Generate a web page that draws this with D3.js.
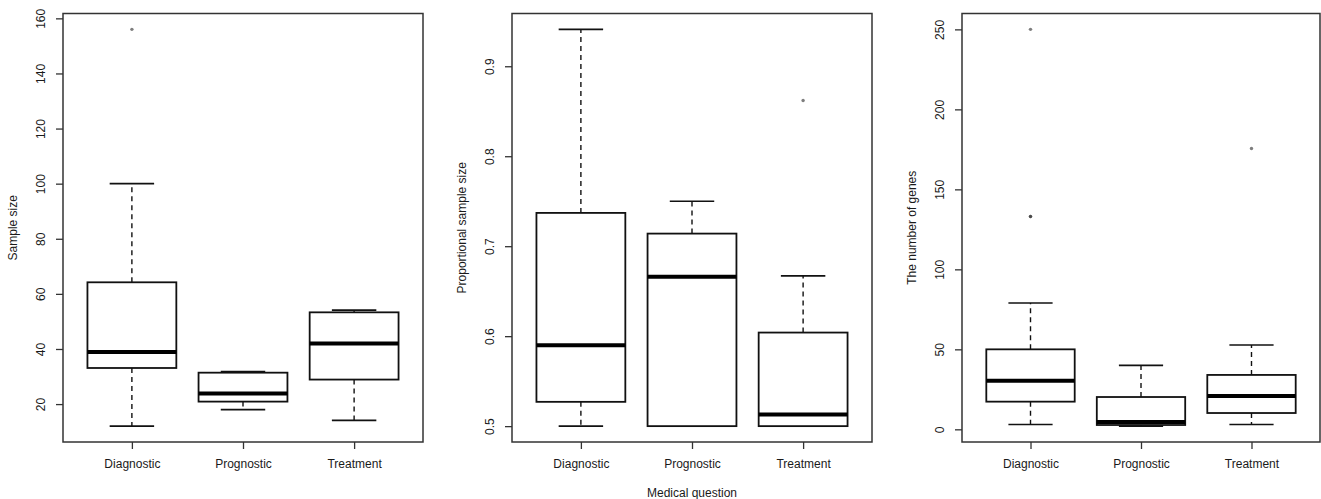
<!DOCTYPE html>
<html>
<head>
<meta charset="utf-8">
<script src="https://cdn.jsdelivr.net/npm/d3@7"></script>
<style>
  html, body { margin: 0; padding: 0; background: #fff; }
  svg { display: block; }
  text { font-family: "Liberation Sans", Arial, sans-serif; fill: #1a1a1a; }
</style>
</head>
<body>
<svg id="chart" width="1321" height="499"></svg>
<script>
// ---------- data ----------
const categories = ["Diagnostic", "Prognostic", "Treatment"];

// five-number summaries per category: [lower whisker, Q1, median, Q3, upper whisker]
const sampleSizeStats = [
  [12, 33.1, 38.9, 64.2, 100],
  [18, 20.9, 23.8, 31.4, 31.8],
  [14.1, 28.9, 42, 53.3, 54.1]
];
const sampleSizeOutliers = [[156], [], []];

const proportionStats = [
  [0.5, 0.527, 0.59, 0.737, 0.941],
  [0.5, 0.5, 0.666, 0.714, 0.75],
  [0.5, 0.5, 0.513, 0.604, 0.667]
];
const proportionOutliers = [[], [], [0.862]];

const genesStats = [
  [3, 17.3, 30.4, 50, 79],
  [2, 2.7, 4.6, 20.2, 40],
  [3, 10.2, 20.8, 34, 52.7]
];
const genesOutliers = [[250, 133, 133], [], [175.5]];

const sampleSizeTicks = [20, 40, 60, 80, 100, 120, 140, 160];
const proportionTicks = [0.5, 0.6, 0.7, 0.8, 0.9];
const genesTicks = [0, 50, 100, 150, 200, 250];

const yTitles = ["Sample size", "Proportional sample size", "The number of genes"];
const xTitle = "Medical question";

// ---------- layout ----------
const svg = d3.select("#chart");
const plotTop = 13.5, plotBottom = 442;
const panels = [
  { left: 63,  right: 423,  stats: sampleSizeStats, outliers: sampleSizeOutliers, ticks: sampleSizeTicks, fmt: d3.format("d"), title: yTitles[0] },
  { left: 512, right: 872,  stats: proportionStats, outliers: proportionOutliers, ticks: proportionTicks, fmt: d3.format(".1f"), title: yTitles[1] },
  { left: 962, right: 1320, stats: genesStats,      outliers: genesOutliers,      ticks: genesTicks,      fmt: d3.format("d"), title: yTitles[2] }
];

panels.forEach(p => {
  const g = svg.append("g");
  const allVals = p.stats.flat().concat(p.outliers.flat());
  const lo = d3.min(allVals), hi = d3.max(allVals);
  const pad = (hi - lo) * 0.04;
  const y = d3.scaleLinear().domain([lo - pad, hi + pad]).range([plotBottom, plotTop]);
  const n = categories.length;
  const xpad = n * 0.04;
  const x = d3.scaleLinear().domain([0.5 - xpad, n + 0.5 + xpad]).range([p.left, p.right]);
  const boxW = x(1.4) - x(1);   // half of 0.8 box width
  const capW = boxW / 2;

  // boxes
  p.stats.forEach((s, i) => {
    const cx = x(i + 1);
    const [wlo, q1, med, q3, whi] = s;
    g.append("line").attr("x1", cx).attr("x2", cx).attr("y1", y(q3)).attr("y2", y(whi))
      .attr("stroke", "#111").attr("stroke-width", 1.4).attr("stroke-dasharray", "5,4");
    g.append("line").attr("x1", cx).attr("x2", cx).attr("y1", y(q1)).attr("y2", y(wlo))
      .attr("stroke", "#111").attr("stroke-width", 1.4).attr("stroke-dasharray", "5,4");
    [wlo, whi].forEach(v => {
      g.append("line").attr("x1", cx - capW).attr("x2", cx + capW).attr("y1", y(v)).attr("y2", y(v))
        .attr("stroke", "#111").attr("stroke-width", 1.6);
    });
    g.append("rect").attr("x", cx - boxW).attr("width", 2 * boxW)
      .attr("y", y(q3)).attr("height", y(q1) - y(q3))
      .attr("fill", "#fff").attr("stroke", "#111").attr("stroke-width", 1.8);
    g.append("line").attr("x1", cx - boxW).attr("x2", cx + boxW).attr("y1", y(med)).attr("y2", y(med))
      .attr("stroke", "#000").attr("stroke-width", 4);
  });

  // outliers (overlapping points render darker)
  p.outliers.forEach((arr, i) => {
    arr.forEach(v => {
      g.append("circle").attr("cx", x(i + 1)).attr("cy", y(v)).attr("r", 1.7)
        .attr("fill", "rgba(40,40,40,0.6)").attr("stroke", "none");
    });
  });

  // frame
  g.append("rect").attr("x", p.left).attr("y", plotTop).attr("width", p.right - p.left).attr("height", plotBottom - plotTop)
    .attr("fill", "none").attr("stroke", "#333").attr("stroke-width", 1.5);

  // y axis
  const yAxis = d3.axisLeft(y).tickValues(p.ticks).tickFormat(p.fmt).tickSize(7).tickSizeOuter(0);
  const ya = g.append("g").attr("transform", `translate(${p.left},0)`).call(yAxis);
  ya.select(".domain").remove();
  ya.selectAll(".tick line").attr("stroke", "#333").attr("stroke-width", 1.3);
  ya.selectAll(".tick text")
    .attr("x", 0).attr("dy", null)
    .attr("transform", `translate(-22,0) rotate(-90)`)
    .attr("text-anchor", "middle").attr("dominant-baseline", "central")
    .style("font-size", "12px").style("fill", "#1a1a1a");

  // x axis
  const xAxis = d3.axisBottom(x).tickValues(d3.range(1, n + 1)).tickFormat(d => categories[d - 1]).tickSize(7).tickSizeOuter(0);
  const xa = g.append("g").attr("transform", `translate(0,${plotBottom})`).call(xAxis);
  xa.select(".domain").remove();
  xa.selectAll(".tick line").attr("stroke", "#333").attr("stroke-width", 1.3);
  xa.selectAll(".tick text").attr("y", 22).attr("dy", "0.32em")
    .style("font-size", "12px").style("fill", "#1a1a1a");

  // y title
  g.append("text")
    .attr("transform", `translate(${p.left - 50},${(plotTop + plotBottom) / 2}) rotate(-90)`)
    .attr("text-anchor", "middle").attr("dominant-baseline", "central")
    .style("font-size", "12px").text(p.title);
});

svg.append("text")
  .attr("x", (panels[1].left + panels[1].right) / 2).attr("y", 493)
  .attr("text-anchor", "middle").attr("dominant-baseline", "central")
  .style("font-size", "12px").text(xTitle);
</script>
</body>
</html>
